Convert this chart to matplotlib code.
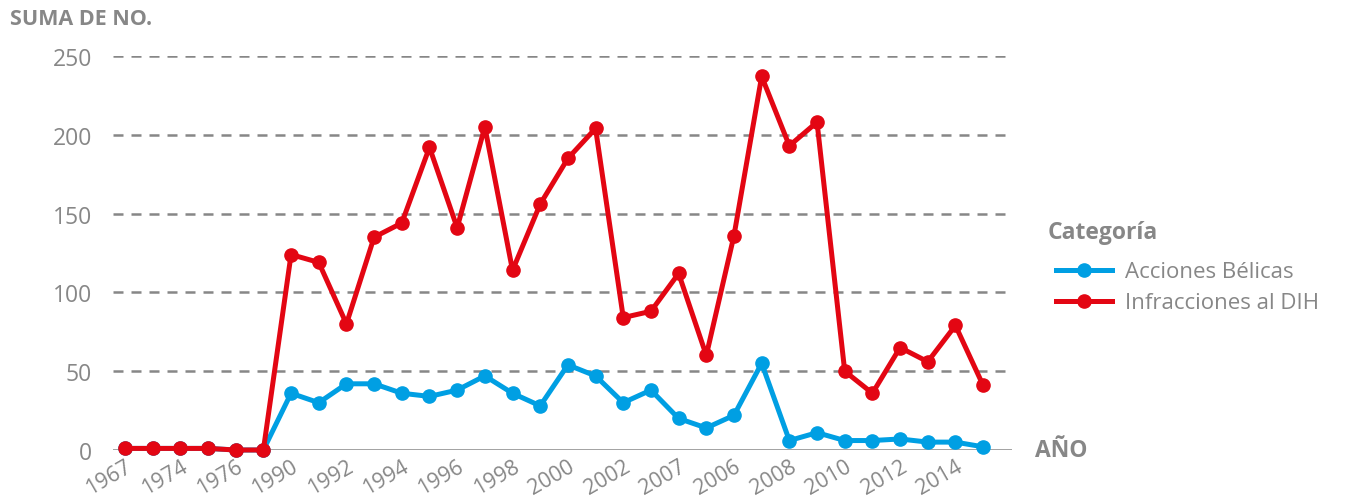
import matplotlib.pyplot as plt

# data
labels = ["1967", "", "1974", "", "1976", "", "1990", "", "1992", "", "1994", "",
          "1996", "", "1998", "", "2000", "", "2002", "", "2007", "", "2006", "",
          "2008", "", "2010", "", "2012", "", "2014", ""]
acciones = [1, 1, 1, 1, 0, 0, 36, 30, 42, 42, 36, 34, 38, 47, 36, 28,
            54, 47, 30, 38, 20, 14, 22, 55, 6, 11, 6, 6, 7, 5, 5, 2]
infracciones = [1, 1, 1, 1, 0, 0, 124, 119, 80, 135, 144, 192, 141, 205, 114, 156,
                185, 204, 84, 88, 112, 60, 136, 237, 193, 208, 50, 36, 65, 56, 79, 41]

blue = "#009FE3"
red = "#E30613"
grey = "#878787"

plt.rcParams['font.family'] = ['Open Sans', 'DejaVu Sans']

fig = plt.figure(figsize=(13.46, 5.02), dpi=100)
ax = fig.add_axes([0.084, 0.1016, 0.668, 0.785])

x = list(range(len(labels)))

# gridlines
for v in [50, 100, 150, 200, 250]:
    ax.axhline(v, color=grey, lw=1.8, dashes=(4, 3.2), zorder=1)
ax.axhline(0, color=grey, lw=1.8, zorder=1)

ax.plot(x, acciones, color=blue, lw=3.6, marker="o", ms=9.5, label="Acciones Bélicas",
        clip_on=False, zorder=3)
ax.plot(x, infracciones, color=red, lw=3.6, marker="o", ms=9.5, label="Infracciones al DIH",
        clip_on=False, zorder=4)

ax.set_xlim(-0.43, 32.05)
ax.set_ylim(0, 250)
ax.set_yticks([0, 50, 100, 150, 200, 250])
ax.tick_params(axis="y", length=0, pad=15, labelsize=16.5, labelcolor=grey)
ax.set_xticks(x)
ax.set_xticklabels(labels, rotation=30, ha="right", rotation_mode="anchor")
ax.tick_params(axis="x", length=0, pad=4, labelsize=15.5, labelcolor=grey)

for s in ax.spines.values():
    s.set_visible(False)

fig.text(0.0075, 0.962, "SUMA DE NO.", color=grey, fontsize=15.5, fontweight="bold",
         va="center", ha="left")
fig.text(0.769, 0.1016, "AÑO", color=grey, fontsize=16.5, fontweight="bold",
         va="center", ha="left")

fig.text(0.7786, 0.536, "Categoría", color=grey, fontsize=16.5, fontweight="bold",
         va="center", ha="left")
leg = fig.legend(loc="upper left", bbox_to_anchor=(0.778, 0.495), frameon=False,
                 fontsize=16, handlelength=2.5, handletextpad=0.6,
                 labelspacing=0.45, borderaxespad=0)
for t in leg.get_texts():
    t.set_color(grey)

fig.savefig("out.png", dpi=100)
